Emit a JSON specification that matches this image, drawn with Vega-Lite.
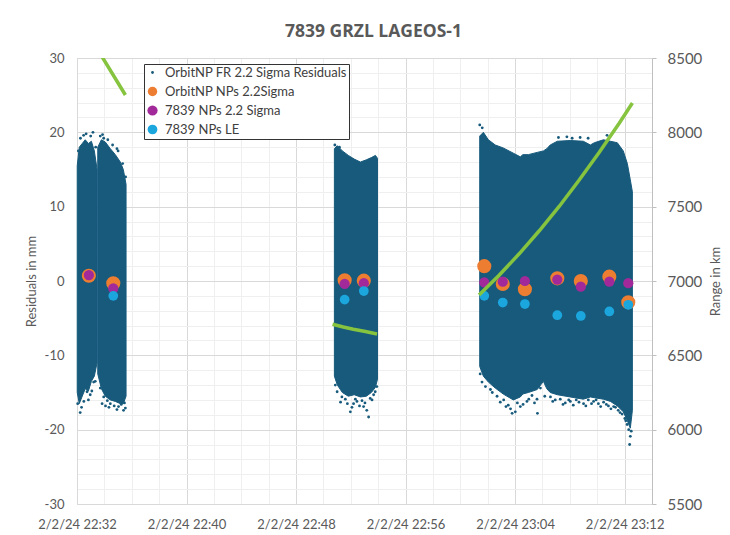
{
  "$schema": "https://vega.github.io/schema/vega-lite/v6.json",
  "width": 575,
  "height": 446,
  "autosize": {"type": "none"},
  "padding": {"left": 77, "top": 58, "right": 78, "bottom": 31},
  "background": "white",
  "title": {"text": "7839 GRZL LAGEOS-1", "font": "Open Sans", "fontSize": 17.5, "fontWeight": "bold", "color": "#595959", "anchor": "middle", "frame": "group", "dx": 9, "offset": 11},
  "config": {
    "view": {"stroke": null},
    "font": "Lato",
    "axis": {"labelFont": "Lato", "titleFont": "Lato", "labelColor": "#595959", "titleColor": "#595959", "titleFontWeight": "normal", "labelOverlap": false}
  },
  "datasets": {
    "env": [
      {"cloud": "1a", "t": "2024-02-02T22:32:01", "v": 15.5, "v2": -15.0},
      {"cloud": "1a", "t": "2024-02-02T22:32:10", "v": 18.0, "v2": -16.5},
      {"cloud": "1a", "t": "2024-02-02T22:32:23", "v": 18.5, "v2": -15.5},
      {"cloud": "1a", "t": "2024-02-02T22:32:36", "v": 19.0, "v2": -14.5},
      {"cloud": "1a", "t": "2024-02-02T22:32:50", "v": 18.5, "v2": -14.8},
      {"cloud": "1a", "t": "2024-02-02T22:33:03", "v": 18.8, "v2": -13.5},
      {"cloud": "1a", "t": "2024-02-02T22:33:16", "v": 17.5, "v2": -12.8},
      {"cloud": "1a", "t": "2024-02-02T22:33:28", "v": 15.0, "v2": -11.0},
      {"cloud": "1b", "t": "2024-02-02T22:33:31", "v": 18.0, "v2": -12.5},
      {"cloud": "1b", "t": "2024-02-02T22:33:47", "v": 19.0, "v2": -14.5},
      {"cloud": "1b", "t": "2024-02-02T22:34:04", "v": 18.7, "v2": -15.5},
      {"cloud": "1b", "t": "2024-02-02T22:34:26", "v": 17.8, "v2": -16.0},
      {"cloud": "1b", "t": "2024-02-02T22:34:48", "v": 17.0, "v2": -16.2},
      {"cloud": "1b", "t": "2024-02-02T22:35:10", "v": 16.0, "v2": -16.5},
      {"cloud": "1b", "t": "2024-02-02T22:35:23", "v": 15.0, "v2": -16.5},
      {"cloud": "1b", "t": "2024-02-02T22:35:35", "v": 13.0, "v2": -15.5},
      {"cloud": "2", "t": "2024-02-02T22:50:48", "v": 17.8, "v2": -12.8},
      {"cloud": "2", "t": "2024-02-02T22:51:01", "v": 18.2, "v2": -14.0},
      {"cloud": "2", "t": "2024-02-02T22:51:23", "v": 17.5, "v2": -15.0},
      {"cloud": "2", "t": "2024-02-02T22:51:49", "v": 16.9, "v2": -15.5},
      {"cloud": "2", "t": "2024-02-02T22:52:15", "v": 16.4, "v2": -15.3},
      {"cloud": "2", "t": "2024-02-02T22:52:42", "v": 16.0, "v2": -15.6},
      {"cloud": "2", "t": "2024-02-02T22:53:08", "v": 16.3, "v2": -15.5},
      {"cloud": "2", "t": "2024-02-02T22:53:30", "v": 16.6, "v2": -15.0},
      {"cloud": "2", "t": "2024-02-02T22:53:48", "v": 16.9, "v2": -14.3},
      {"cloud": "2", "t": "2024-02-02T22:53:57", "v": 16.5, "v2": -13.2},
      {"cloud": "3", "t": "2024-02-02T23:01:25", "v": 19.5, "v2": -11.5},
      {"cloud": "3", "t": "2024-02-02T23:01:41", "v": 20.0, "v2": -12.8},
      {"cloud": "3", "t": "2024-02-02T23:02:03", "v": 19.0, "v2": -13.6},
      {"cloud": "3", "t": "2024-02-02T23:02:33", "v": 18.3, "v2": -14.4},
      {"cloud": "3", "t": "2024-02-02T23:03:08", "v": 17.9, "v2": -15.2},
      {"cloud": "3", "t": "2024-02-02T23:03:52", "v": 17.2, "v2": -16.0},
      {"cloud": "3", "t": "2024-02-02T23:04:23", "v": 16.7, "v2": -15.6},
      {"cloud": "3", "t": "2024-02-02T23:04:34", "v": 17.0, "v2": -15.2},
      {"cloud": "3", "t": "2024-02-02T23:04:58", "v": 17.0, "v2": -15.0},
      {"cloud": "3", "t": "2024-02-02T23:05:37", "v": 17.3, "v2": -14.6},
      {"cloud": "3", "t": "2024-02-02T23:06:04", "v": 17.5, "v2": -13.5},
      {"cloud": "3", "t": "2024-02-02T23:06:19", "v": 17.8, "v2": -14.5},
      {"cloud": "3", "t": "2024-02-02T23:06:34", "v": 18.3, "v2": -15.0},
      {"cloud": "3", "t": "2024-02-02T23:07:05", "v": 18.8, "v2": -15.3},
      {"cloud": "3", "t": "2024-02-02T23:08:02", "v": 18.9, "v2": -15.6},
      {"cloud": "3", "t": "2024-02-02T23:08:59", "v": 18.8, "v2": -15.9},
      {"cloud": "3", "t": "2024-02-02T23:09:30", "v": 18.3, "v2": -15.6},
      {"cloud": "3", "t": "2024-02-02T23:09:47", "v": 18.6, "v2": -15.7},
      {"cloud": "3", "t": "2024-02-02T23:10:27", "v": 19.0, "v2": -15.9},
      {"cloud": "3", "t": "2024-02-02T23:10:58", "v": 18.8, "v2": -16.2},
      {"cloud": "3", "t": "2024-02-02T23:11:28", "v": 18.6, "v2": -16.8},
      {"cloud": "3", "t": "2024-02-02T23:11:54", "v": 17.5, "v2": -17.6},
      {"cloud": "3", "t": "2024-02-02T23:12:12", "v": 15.8, "v2": -18.8},
      {"cloud": "3", "t": "2024-02-02T23:12:25", "v": 13.6, "v2": -19.8},
      {"cloud": "3", "t": "2024-02-02T23:12:34", "v": 12.0, "v2": -17.4}
    ],
    "pts": [
      {"series": "OrbitNP FR 2.2 Sigma Residuals", "t": "2024-02-02T22:32:03", "v": -16.5},
      {"series": "OrbitNP FR 2.2 Sigma Residuals", "t": "2024-02-02T22:32:14", "v": -17.7},
      {"series": "OrbitNP FR 2.2 Sigma Residuals", "t": "2024-02-02T22:32:20", "v": -17.0},
      {"series": "OrbitNP FR 2.2 Sigma Residuals", "t": "2024-02-02T22:32:30", "v": -16.2},
      {"series": "OrbitNP FR 2.2 Sigma Residuals", "t": "2024-02-02T22:32:44", "v": -14.9},
      {"series": "OrbitNP FR 2.2 Sigma Residuals", "t": "2024-02-02T22:32:50", "v": -16.0},
      {"series": "OrbitNP FR 2.2 Sigma Residuals", "t": "2024-02-02T22:32:58", "v": -15.3},
      {"series": "OrbitNP FR 2.2 Sigma Residuals", "t": "2024-02-02T22:33:05", "v": -14.8},
      {"series": "OrbitNP FR 2.2 Sigma Residuals", "t": "2024-02-02T22:33:13", "v": -13.6},
      {"series": "OrbitNP FR 2.2 Sigma Residuals", "t": "2024-02-02T22:33:20", "v": -13.5},
      {"series": "OrbitNP FR 2.2 Sigma Residuals", "t": "2024-02-02T22:32:06", "v": 17.5},
      {"series": "OrbitNP FR 2.2 Sigma Residuals", "t": "2024-02-02T22:32:15", "v": 19.2},
      {"series": "OrbitNP FR 2.2 Sigma Residuals", "t": "2024-02-02T22:32:29", "v": 19.6},
      {"series": "OrbitNP FR 2.2 Sigma Residuals", "t": "2024-02-02T22:32:40", "v": 19.8},
      {"series": "OrbitNP FR 2.2 Sigma Residuals", "t": "2024-02-02T22:33:00", "v": 19.5},
      {"series": "OrbitNP FR 2.2 Sigma Residuals", "t": "2024-02-02T22:33:10", "v": 20.0},
      {"series": "OrbitNP FR 2.2 Sigma Residuals", "t": "2024-02-02T22:33:22", "v": 18.0},
      {"series": "OrbitNP FR 2.2 Sigma Residuals", "t": "2024-02-02T22:33:42", "v": 19.5},
      {"series": "OrbitNP FR 2.2 Sigma Residuals", "t": "2024-02-02T22:33:52", "v": 19.7},
      {"series": "OrbitNP FR 2.2 Sigma Residuals", "t": "2024-02-02T22:33:57", "v": 19.2},
      {"series": "OrbitNP FR 2.2 Sigma Residuals", "t": "2024-02-02T22:34:15", "v": 19.0},
      {"series": "OrbitNP FR 2.2 Sigma Residuals", "t": "2024-02-02T22:34:36", "v": 18.3},
      {"series": "OrbitNP FR 2.2 Sigma Residuals", "t": "2024-02-02T22:34:55", "v": 17.8},
      {"series": "OrbitNP FR 2.2 Sigma Residuals", "t": "2024-02-02T22:35:00", "v": 17.5},
      {"series": "OrbitNP FR 2.2 Sigma Residuals", "t": "2024-02-02T22:35:20", "v": 15.8},
      {"series": "OrbitNP FR 2.2 Sigma Residuals", "t": "2024-02-02T22:35:33", "v": 14.0},
      {"series": "OrbitNP FR 2.2 Sigma Residuals", "t": "2024-02-02T22:33:42", "v": -14.4},
      {"series": "OrbitNP FR 2.2 Sigma Residuals", "t": "2024-02-02T22:33:50", "v": -16.5},
      {"series": "OrbitNP FR 2.2 Sigma Residuals", "t": "2024-02-02T22:33:57", "v": -15.6},
      {"series": "OrbitNP FR 2.2 Sigma Residuals", "t": "2024-02-02T22:34:05", "v": -16.8},
      {"series": "OrbitNP FR 2.2 Sigma Residuals", "t": "2024-02-02T22:34:13", "v": -16.1},
      {"series": "OrbitNP FR 2.2 Sigma Residuals", "t": "2024-02-02T22:34:20", "v": -17.0},
      {"series": "OrbitNP FR 2.2 Sigma Residuals", "t": "2024-02-02T22:34:26", "v": -16.5},
      {"series": "OrbitNP FR 2.2 Sigma Residuals", "t": "2024-02-02T22:34:43", "v": -16.8},
      {"series": "OrbitNP FR 2.2 Sigma Residuals", "t": "2024-02-02T22:34:55", "v": -17.3},
      {"series": "OrbitNP FR 2.2 Sigma Residuals", "t": "2024-02-02T22:35:02", "v": -16.9},
      {"series": "OrbitNP FR 2.2 Sigma Residuals", "t": "2024-02-02T22:35:14", "v": -16.6},
      {"series": "OrbitNP FR 2.2 Sigma Residuals", "t": "2024-02-02T22:35:24", "v": -17.4},
      {"series": "OrbitNP FR 2.2 Sigma Residuals", "t": "2024-02-02T22:35:28", "v": -16.4},
      {"series": "OrbitNP FR 2.2 Sigma Residuals", "t": "2024-02-02T22:35:32", "v": -17.1},
      {"series": "OrbitNP FR 2.2 Sigma Residuals", "t": "2024-02-02T22:50:50", "v": 18.3},
      {"series": "OrbitNP FR 2.2 Sigma Residuals", "t": "2024-02-02T22:51:10", "v": 18.0},
      {"series": "OrbitNP FR 2.2 Sigma Residuals", "t": "2024-02-02T22:50:52", "v": -14.0},
      {"series": "OrbitNP FR 2.2 Sigma Residuals", "t": "2024-02-02T22:51:00", "v": -14.9},
      {"series": "OrbitNP FR 2.2 Sigma Residuals", "t": "2024-02-02T22:51:15", "v": -16.3},
      {"series": "OrbitNP FR 2.2 Sigma Residuals", "t": "2024-02-02T22:51:21", "v": -15.6},
      {"series": "OrbitNP FR 2.2 Sigma Residuals", "t": "2024-02-02T22:51:36", "v": -15.9},
      {"series": "OrbitNP FR 2.2 Sigma Residuals", "t": "2024-02-02T22:51:45", "v": -16.5},
      {"series": "OrbitNP FR 2.2 Sigma Residuals", "t": "2024-02-02T22:51:58", "v": -17.6},
      {"series": "OrbitNP FR 2.2 Sigma Residuals", "t": "2024-02-02T22:52:05", "v": -17.0},
      {"series": "OrbitNP FR 2.2 Sigma Residuals", "t": "2024-02-02T22:52:12", "v": -16.5},
      {"series": "OrbitNP FR 2.2 Sigma Residuals", "t": "2024-02-02T22:52:20", "v": -15.9},
      {"series": "OrbitNP FR 2.2 Sigma Residuals", "t": "2024-02-02T22:52:27", "v": -16.2},
      {"series": "OrbitNP FR 2.2 Sigma Residuals", "t": "2024-02-02T22:52:38", "v": -16.8},
      {"series": "OrbitNP FR 2.2 Sigma Residuals", "t": "2024-02-02T22:52:49", "v": -16.1},
      {"series": "OrbitNP FR 2.2 Sigma Residuals", "t": "2024-02-02T22:52:56", "v": -16.9},
      {"series": "OrbitNP FR 2.2 Sigma Residuals", "t": "2024-02-02T22:53:02", "v": -16.4},
      {"series": "OrbitNP FR 2.2 Sigma Residuals", "t": "2024-02-02T22:53:10", "v": -17.4},
      {"series": "OrbitNP FR 2.2 Sigma Residuals", "t": "2024-02-02T22:53:18", "v": -18.3},
      {"series": "OrbitNP FR 2.2 Sigma Residuals", "t": "2024-02-02T22:53:25", "v": -15.8},
      {"series": "OrbitNP FR 2.2 Sigma Residuals", "t": "2024-02-02T22:53:33", "v": -16.0},
      {"series": "OrbitNP FR 2.2 Sigma Residuals", "t": "2024-02-02T22:53:40", "v": -15.3},
      {"series": "OrbitNP FR 2.2 Sigma Residuals", "t": "2024-02-02T22:53:47", "v": -14.9},
      {"series": "OrbitNP FR 2.2 Sigma Residuals", "t": "2024-02-02T22:53:54", "v": -14.2},
      {"series": "OrbitNP FR 2.2 Sigma Residuals", "t": "2024-02-02T23:01:25", "v": 21.0},
      {"series": "OrbitNP FR 2.2 Sigma Residuals", "t": "2024-02-02T23:01:36", "v": 20.6},
      {"series": "OrbitNP FR 2.2 Sigma Residuals", "t": "2024-02-02T23:07:10", "v": 19.3},
      {"series": "OrbitNP FR 2.2 Sigma Residuals", "t": "2024-02-02T23:07:47", "v": 19.4},
      {"series": "OrbitNP FR 2.2 Sigma Residuals", "t": "2024-02-02T23:08:10", "v": 19.2},
      {"series": "OrbitNP FR 2.2 Sigma Residuals", "t": "2024-02-02T23:08:45", "v": 19.3},
      {"series": "OrbitNP FR 2.2 Sigma Residuals", "t": "2024-02-02T23:09:20", "v": 19.2},
      {"series": "OrbitNP FR 2.2 Sigma Residuals", "t": "2024-02-02T23:10:43", "v": 19.6},
      {"series": "OrbitNP FR 2.2 Sigma Residuals", "t": "2024-02-02T23:01:27", "v": -12.5},
      {"series": "OrbitNP FR 2.2 Sigma Residuals", "t": "2024-02-02T23:01:35", "v": -13.6},
      {"series": "OrbitNP FR 2.2 Sigma Residuals", "t": "2024-02-02T23:01:50", "v": -14.2},
      {"series": "OrbitNP FR 2.2 Sigma Residuals", "t": "2024-02-02T23:02:12", "v": -14.6},
      {"series": "OrbitNP FR 2.2 Sigma Residuals", "t": "2024-02-02T23:02:20", "v": -15.0},
      {"series": "OrbitNP FR 2.2 Sigma Residuals", "t": "2024-02-02T23:02:41", "v": -15.5},
      {"series": "OrbitNP FR 2.2 Sigma Residuals", "t": "2024-02-02T23:02:55", "v": -16.3},
      {"series": "OrbitNP FR 2.2 Sigma Residuals", "t": "2024-02-02T23:03:10", "v": -16.0},
      {"series": "OrbitNP FR 2.2 Sigma Residuals", "t": "2024-02-02T23:03:20", "v": -16.9},
      {"series": "OrbitNP FR 2.2 Sigma Residuals", "t": "2024-02-02T23:03:30", "v": -16.7},
      {"series": "OrbitNP FR 2.2 Sigma Residuals", "t": "2024-02-02T23:03:40", "v": -17.2},
      {"series": "OrbitNP FR 2.2 Sigma Residuals", "t": "2024-02-02T23:03:47", "v": -17.8},
      {"series": "OrbitNP FR 2.2 Sigma Residuals", "t": "2024-02-02T23:04:01", "v": -17.6},
      {"series": "OrbitNP FR 2.2 Sigma Residuals", "t": "2024-02-02T23:04:10", "v": -16.4},
      {"series": "OrbitNP FR 2.2 Sigma Residuals", "t": "2024-02-02T23:04:23", "v": -16.9},
      {"series": "OrbitNP FR 2.2 Sigma Residuals", "t": "2024-02-02T23:04:35", "v": -16.6},
      {"series": "OrbitNP FR 2.2 Sigma Residuals", "t": "2024-02-02T23:04:52", "v": -16.2},
      {"series": "OrbitNP FR 2.2 Sigma Residuals", "t": "2024-02-02T23:05:00", "v": -15.9},
      {"series": "OrbitNP FR 2.2 Sigma Residuals", "t": "2024-02-02T23:05:14", "v": -15.4},
      {"series": "OrbitNP FR 2.2 Sigma Residuals", "t": "2024-02-02T23:05:25", "v": -16.4},
      {"series": "OrbitNP FR 2.2 Sigma Residuals", "t": "2024-02-02T23:05:36", "v": -15.9},
      {"series": "OrbitNP FR 2.2 Sigma Residuals", "t": "2024-02-02T23:05:38", "v": -17.8},
      {"series": "OrbitNP FR 2.2 Sigma Residuals", "t": "2024-02-02T23:05:51", "v": -14.4},
      {"series": "OrbitNP FR 2.2 Sigma Residuals", "t": "2024-02-02T23:06:10", "v": -15.5},
      {"series": "OrbitNP FR 2.2 Sigma Residuals", "t": "2024-02-02T23:06:35", "v": -15.6},
      {"series": "OrbitNP FR 2.2 Sigma Residuals", "t": "2024-02-02T23:06:45", "v": -16.2},
      {"series": "OrbitNP FR 2.2 Sigma Residuals", "t": "2024-02-02T23:06:56", "v": -16.0},
      {"series": "OrbitNP FR 2.2 Sigma Residuals", "t": "2024-02-02T23:07:18", "v": -15.9},
      {"series": "OrbitNP FR 2.2 Sigma Residuals", "t": "2024-02-02T23:07:30", "v": -16.6},
      {"series": "OrbitNP FR 2.2 Sigma Residuals", "t": "2024-02-02T23:07:40", "v": -16.4},
      {"series": "OrbitNP FR 2.2 Sigma Residuals", "t": "2024-02-02T23:07:55", "v": -16.0},
      {"series": "OrbitNP FR 2.2 Sigma Residuals", "t": "2024-02-02T23:08:02", "v": -16.2},
      {"series": "OrbitNP FR 2.2 Sigma Residuals", "t": "2024-02-02T23:08:15", "v": -16.7},
      {"series": "OrbitNP FR 2.2 Sigma Residuals", "t": "2024-02-02T23:08:28", "v": -16.0},
      {"series": "OrbitNP FR 2.2 Sigma Residuals", "t": "2024-02-02T23:08:40", "v": -16.3},
      {"series": "OrbitNP FR 2.2 Sigma Residuals", "t": "2024-02-02T23:09:00", "v": -16.5},
      {"series": "OrbitNP FR 2.2 Sigma Residuals", "t": "2024-02-02T23:09:10", "v": -16.8},
      {"series": "OrbitNP FR 2.2 Sigma Residuals", "t": "2024-02-02T23:09:21", "v": -16.0},
      {"series": "OrbitNP FR 2.2 Sigma Residuals", "t": "2024-02-02T23:09:35", "v": -16.5},
      {"series": "OrbitNP FR 2.2 Sigma Residuals", "t": "2024-02-02T23:09:44", "v": -16.2},
      {"series": "OrbitNP FR 2.2 Sigma Residuals", "t": "2024-02-02T23:09:55", "v": -16.0},
      {"series": "OrbitNP FR 2.2 Sigma Residuals", "t": "2024-02-02T23:10:05", "v": -16.5},
      {"series": "OrbitNP FR 2.2 Sigma Residuals", "t": "2024-02-02T23:10:15", "v": -16.9},
      {"series": "OrbitNP FR 2.2 Sigma Residuals", "t": "2024-02-02T23:10:28", "v": -16.3},
      {"series": "OrbitNP FR 2.2 Sigma Residuals", "t": "2024-02-02T23:10:40", "v": -16.6},
      {"series": "OrbitNP FR 2.2 Sigma Residuals", "t": "2024-02-02T23:10:49", "v": -16.8},
      {"series": "OrbitNP FR 2.2 Sigma Residuals", "t": "2024-02-02T23:11:00", "v": -17.2},
      {"series": "OrbitNP FR 2.2 Sigma Residuals", "t": "2024-02-02T23:11:12", "v": -16.9},
      {"series": "OrbitNP FR 2.2 Sigma Residuals", "t": "2024-02-02T23:11:20", "v": -17.0},
      {"series": "OrbitNP FR 2.2 Sigma Residuals", "t": "2024-02-02T23:11:32", "v": -17.4},
      {"series": "OrbitNP FR 2.2 Sigma Residuals", "t": "2024-02-02T23:11:40", "v": -17.7},
      {"series": "OrbitNP FR 2.2 Sigma Residuals", "t": "2024-02-02T23:11:49", "v": -17.9},
      {"series": "OrbitNP FR 2.2 Sigma Residuals", "t": "2024-02-02T23:12:01", "v": -18.5},
      {"series": "OrbitNP FR 2.2 Sigma Residuals", "t": "2024-02-02T23:12:05", "v": -18.8},
      {"series": "OrbitNP FR 2.2 Sigma Residuals", "t": "2024-02-02T23:12:11", "v": -19.3},
      {"series": "OrbitNP FR 2.2 Sigma Residuals", "t": "2024-02-02T23:12:18", "v": -20.0},
      {"series": "OrbitNP FR 2.2 Sigma Residuals", "t": "2024-02-02T23:12:25", "v": -20.9},
      {"series": "OrbitNP FR 2.2 Sigma Residuals", "t": "2024-02-02T23:12:29", "v": -20.2},
      {"series": "OrbitNP FR 2.2 Sigma Residuals", "t": "2024-02-02T23:12:22", "v": -22.0},
      {"series": "OrbitNP NPs 2.2Sigma", "t": "2024-02-02T22:32:52", "v": 0.7},
      {"series": "OrbitNP NPs 2.2Sigma", "t": "2024-02-02T22:34:39", "v": -0.3},
      {"series": "OrbitNP NPs 2.2Sigma", "t": "2024-02-02T22:51:33", "v": 0.1},
      {"series": "OrbitNP NPs 2.2Sigma", "t": "2024-02-02T22:52:57", "v": 0.05},
      {"series": "OrbitNP NPs 2.2Sigma", "t": "2024-02-02T23:01:45", "v": 2.0},
      {"series": "OrbitNP NPs 2.2Sigma", "t": "2024-02-02T23:03:06", "v": -0.4},
      {"series": "OrbitNP NPs 2.2Sigma", "t": "2024-02-02T23:04:43", "v": -1.1},
      {"series": "OrbitNP NPs 2.2Sigma", "t": "2024-02-02T23:07:05", "v": 0.36},
      {"series": "OrbitNP NPs 2.2Sigma", "t": "2024-02-02T23:08:48", "v": 0.0},
      {"series": "OrbitNP NPs 2.2Sigma", "t": "2024-02-02T23:10:53", "v": 0.58},
      {"series": "OrbitNP NPs 2.2Sigma", "t": "2024-02-02T23:12:16", "v": -2.86},
      {"series": "7839 NPs 2.2 Sigma", "t": "2024-02-02T22:32:52", "v": 0.8},
      {"series": "7839 NPs 2.2 Sigma", "t": "2024-02-02T22:34:39", "v": -1.0},
      {"series": "7839 NPs 2.2 Sigma", "t": "2024-02-02T22:51:33", "v": -0.4},
      {"series": "7839 NPs 2.2 Sigma", "t": "2024-02-02T22:52:57", "v": -0.3},
      {"series": "7839 NPs 2.2 Sigma", "t": "2024-02-02T23:01:45", "v": -0.2},
      {"series": "7839 NPs 2.2 Sigma", "t": "2024-02-02T23:03:06", "v": -0.1},
      {"series": "7839 NPs 2.2 Sigma", "t": "2024-02-02T23:04:43", "v": 0.0},
      {"series": "7839 NPs 2.2 Sigma", "t": "2024-02-02T23:07:05", "v": 0.2},
      {"series": "7839 NPs 2.2 Sigma", "t": "2024-02-02T23:08:48", "v": -0.76},
      {"series": "7839 NPs 2.2 Sigma", "t": "2024-02-02T23:10:53", "v": -0.1},
      {"series": "7839 NPs 2.2 Sigma", "t": "2024-02-02T23:12:16", "v": -0.3},
      {"series": "7839 NPs LE", "t": "2024-02-02T22:34:39", "v": -2.0},
      {"series": "7839 NPs LE", "t": "2024-02-02T22:51:33", "v": -2.5},
      {"series": "7839 NPs LE", "t": "2024-02-02T22:52:57", "v": -1.35},
      {"series": "7839 NPs LE", "t": "2024-02-02T23:01:45", "v": -2.0},
      {"series": "7839 NPs LE", "t": "2024-02-02T23:03:06", "v": -2.9},
      {"series": "7839 NPs LE", "t": "2024-02-02T23:04:43", "v": -3.1},
      {"series": "7839 NPs LE", "t": "2024-02-02T23:07:05", "v": -4.6},
      {"series": "7839 NPs LE", "t": "2024-02-02T23:08:48", "v": -4.7},
      {"series": "7839 NPs LE", "t": "2024-02-02T23:10:53", "v": -4.1},
      {"series": "7839 NPs LE", "t": "2024-02-02T23:12:16", "v": -3.2}
    ],
    "rng": [
      {"pass": 1, "t": "2024-02-02T22:32:14", "km": 8750},
      {"pass": 1, "t": "2024-02-02T22:33:54", "km": 8498},
      {"pass": 1, "t": "2024-02-02T22:35:32", "km": 8251},
      {"pass": 2, "t": "2024-02-02T22:50:40", "km": 6709},
      {"pass": 2, "t": "2024-02-02T22:51:27", "km": 6691},
      {"pass": 2, "t": "2024-02-02T22:52:11", "km": 6676},
      {"pass": 2, "t": "2024-02-02T22:53:04", "km": 6660},
      {"pass": 2, "t": "2024-02-02T22:53:55", "km": 6644},
      {"pass": 3, "t": "2024-02-02T23:01:22", "km": 6906},
      {"pass": 3, "t": "2024-02-02T23:02:50", "km": 7039},
      {"pass": 3, "t": "2024-02-02T23:04:18", "km": 7183},
      {"pass": 3, "t": "2024-02-02T23:05:46", "km": 7338},
      {"pass": 3, "t": "2024-02-02T23:07:14", "km": 7503},
      {"pass": 3, "t": "2024-02-02T23:08:41", "km": 7679},
      {"pass": 3, "t": "2024-02-02T23:10:09", "km": 7866},
      {"pass": 3, "t": "2024-02-02T23:11:37", "km": 8063},
      {"pass": 3, "t": "2024-02-02T23:12:34", "km": 8197}
    ]
  },
  "encoding": {
    "x": {
      "field": "t", "type": "temporal", "title": null,
      "scale": {"domain": [{"year": 2024, "month": 2, "date": 2, "hours": 22, "minutes": 32}, {"year": 2024, "month": 2, "date": 2, "hours": 23, "minutes": 14}], "nice": false},
      "axis": {
        "values": [
          {"year": 2024, "month": 2, "date": 2, "hours": 22, "minutes": 32},
          {"year": 2024, "month": 2, "date": 2, "hours": 22, "minutes": 34},
          {"year": 2024, "month": 2, "date": 2, "hours": 22, "minutes": 36},
          {"year": 2024, "month": 2, "date": 2, "hours": 22, "minutes": 38},
          {"year": 2024, "month": 2, "date": 2, "hours": 22, "minutes": 40},
          {"year": 2024, "month": 2, "date": 2, "hours": 22, "minutes": 42},
          {"year": 2024, "month": 2, "date": 2, "hours": 22, "minutes": 44},
          {"year": 2024, "month": 2, "date": 2, "hours": 22, "minutes": 46},
          {"year": 2024, "month": 2, "date": 2, "hours": 22, "minutes": 48},
          {"year": 2024, "month": 2, "date": 2, "hours": 22, "minutes": 50},
          {"year": 2024, "month": 2, "date": 2, "hours": 22, "minutes": 52},
          {"year": 2024, "month": 2, "date": 2, "hours": 22, "minutes": 54},
          {"year": 2024, "month": 2, "date": 2, "hours": 22, "minutes": 56},
          {"year": 2024, "month": 2, "date": 2, "hours": 22, "minutes": 58},
          {"year": 2024, "month": 2, "date": 2, "hours": 23, "minutes": 0},
          {"year": 2024, "month": 2, "date": 2, "hours": 23, "minutes": 2},
          {"year": 2024, "month": 2, "date": 2, "hours": 23, "minutes": 4},
          {"year": 2024, "month": 2, "date": 2, "hours": 23, "minutes": 6},
          {"year": 2024, "month": 2, "date": 2, "hours": 23, "minutes": 8},
          {"year": 2024, "month": 2, "date": 2, "hours": 23, "minutes": 10},
          {"year": 2024, "month": 2, "date": 2, "hours": 23, "minutes": 12},
          {"year": 2024, "month": 2, "date": 2, "hours": 23, "minutes": 14}
        ],
        "format": "%-m/%-d/%y %H:%M",
        "labelExpr": "(hours(datum.value)*60 + minutes(datum.value) - 1352) % 8 === 0 ? datum.label : ''",
        "gridColor": {"condition": {"test": "(hours(datum.value)*60 + minutes(datum.value) - 1352) % 8 === 0", "value": "#D9D9D9"}, "value": "#EFEFEF"},
        "grid": true,
        "ticks": false,
        "domainColor": "#D9D9D9",
        "labelPadding": 14,
        "labelFontSize": 13,
        "labelFlush": false,
        "labelOverlap": false,
        "labelBound": false
      }
    }
  },
  "layer": [
    {
      "encoding": {
        "y": {
          "field": "v", "type": "quantitative", "title": "Residuals in mm",
          "scale": {"domain": [-30, 30], "nice": false, "zero": false},
          "axis": {
            "values": [-30, -28, -26, -24, -22, -20, -18, -16, -14, -12, -10, -8, -6, -4, -2, 0, 2, 4, 6, 8, 10, 12, 14, 16, 18, 20, 22, 24, 26, 28, 30],
            "labelExpr": "datum.value % 10 === 0 ? '' + datum.value : ''",
            "gridColor": {"condition": {"test": "datum.value % 10 === 0", "value": "#D9D9D9"}, "value": "#EFEFEF"},
            "grid": true,
            "ticks": false,
            "domainColor": "#D9D9D9",
            "labelPadding": 13,
            "labelFontSize": 13,
            "titleFontSize": 13,
            "titlePadding": 6,
            "labelOverlap": false
          }
        },
        "color": {
          "field": "series", "type": "nominal",
          "scale": {"domain": ["OrbitNP FR 2.2 Sigma Residuals", "OrbitNP NPs 2.2Sigma", "7839 NPs 2.2 Sigma", "7839 NPs LE"], "range": ["#175A7C", "#ED7D31", "#A2299A", "#1CA6DE"]},
          "legend": {
            "title": null,
            "orient": "none",
            "legendX": 67,
            "legendY": 6,
            "strokeColor": "#333333",
            "fillColor": "#FFFFFF",
            "padding": 2,
            "rowPadding": 5,
            "labelOffset": 6,
            "symbolType": "circle",
            "symbolStrokeWidth": 0,
            "labelFontSize": 13,
            "labelColor": "#404040",
            "labelLimit": 0
          }
        }
      },
      "layer": [
        {
          "data": {"name": "env"},
          "mark": {"type": "area", "color": "#175A7C", "opacity": 1, "stroke": "#175A7C", "strokeWidth": 1},
          "encoding": {
            "y2": {"field": "v2"},
            "color": {"value": "#175A7C"},
            "detail": {"field": "cloud"}
          }
        },
        {
          "data": {"name": "pts"},
          "transform": [{"filter": "datum.series === 'OrbitNP FR 2.2 Sigma Residuals'"}],
          "mark": {"type": "point", "filled": true, "opacity": 1, "strokeWidth": 0, "shape": "circle"},
          "encoding": {
            "size": {
              "field": "series", "type": "nominal", "legend": null,
              "scale": {"type": "ordinal", "domain": ["OrbitNP FR 2.2 Sigma Residuals", "OrbitNP NPs 2.2Sigma", "7839 NPs 2.2 Sigma", "7839 NPs LE"], "range": [8, 90, 105, 95]}
            }
          }
        },
        {
          "data": {"name": "pts"},
          "transform": [{"filter": "datum.series === 'OrbitNP NPs 2.2Sigma'"}],
          "mark": {"type": "point", "filled": true, "opacity": 1, "strokeWidth": 0, "shape": "circle", "size": 200}
        },
        {
          "data": {"name": "pts"},
          "transform": [{"filter": "datum.series === '7839 NPs 2.2 Sigma'"}],
          "mark": {"type": "point", "filled": true, "opacity": 1, "strokeWidth": 0, "shape": "circle"},
          "encoding": {
            "size": {
              "field": "series", "type": "nominal", "legend": null,
              "scale": {"type": "ordinal", "domain": ["OrbitNP FR 2.2 Sigma Residuals", "OrbitNP NPs 2.2Sigma", "7839 NPs 2.2 Sigma", "7839 NPs LE"], "range": [8, 90, 105, 95]}
            }
          }
        },
        {
          "data": {"name": "pts"},
          "transform": [{"filter": "datum.series === '7839 NPs LE'"}],
          "mark": {"type": "point", "filled": true, "opacity": 1, "strokeWidth": 0, "shape": "circle"},
          "encoding": {
            "size": {
              "field": "series", "type": "nominal", "legend": null,
              "scale": {"type": "ordinal", "domain": ["OrbitNP FR 2.2 Sigma Residuals", "OrbitNP NPs 2.2Sigma", "7839 NPs 2.2 Sigma", "7839 NPs LE"], "range": [8, 90, 105, 95]}
            }
          }
        }
      ]
    },
    {
      "data": {"name": "rng"},
      "mark": {"type": "line", "color": "#86C43F", "strokeWidth": 3.5, "clip": true},
      "encoding": {
        "y": {
          "field": "km", "type": "quantitative",
          "scale": {"domain": [5500, 8500], "nice": false, "zero": false},
          "axis": {
            "orient": "right",
            "title": "Range in km",
            "titleAngle": 270,
            "titleBaseline": "top",
            "values": [5500, 6000, 6500, 7000, 7500, 8000, 8500],
            "format": "d",
            "grid": false,
            "tickSize": 4,
            "tickColor": "#BFBFBF",
            "domainColor": "#BFBFBF",
            "labelPadding": 11,
            "labelFontSize": 15,
            "titleFontSize": 13,
            "titlePadding": 8
          }
        },
        "detail": {"field": "pass"}
      }
    }
  ],
  "resolve": {"scale": {"y": "independent"}}
}
